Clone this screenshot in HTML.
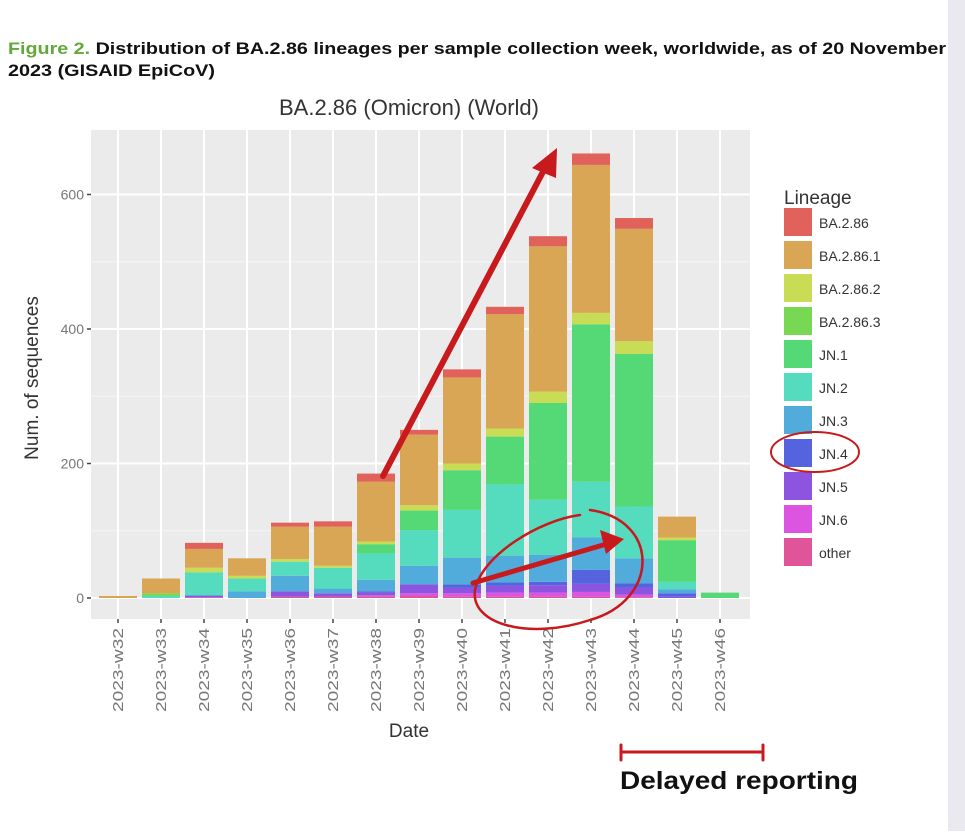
<!DOCTYPE html>
<html><head><meta charset="utf-8"><style>
body{margin:0;background:#fff;width:965px;height:831px;overflow:hidden;font-family:"Liberation Sans",sans-serif}
</style></head><body>
<svg width="965" height="831" xmlns="http://www.w3.org/2000/svg">
<rect x="948" y="0" width="17" height="831" fill="#e9e9ef"/>
<text x="8" y="54" font-size="17" font-weight="bold" fill="#111" font-family="Liberation Sans, sans-serif" textLength="938" lengthAdjust="spacingAndGlyphs"><tspan fill="#62a83a">Figure 2.</tspan> Distribution of BA.2.86 lineages per sample collection week, worldwide, as of 20 November</text>
<text x="8" y="76" font-size="17" font-weight="bold" fill="#111" textLength="207" lengthAdjust="spacingAndGlyphs">2023 (GISAID EpiCoV)</text>
<text x="409" y="115" font-size="22" fill="#333" text-anchor="middle">BA.2.86 (Omicron) (World)</text>
<g id="chart"></g>
<text x="409" y="737" font-size="19" fill="#333" text-anchor="middle">Date</text>
<text transform="translate(38,378) rotate(-90)" font-size="19" fill="#333" text-anchor="middle">Num. of sequences</text>
<g id="legend"></g>
<g fill="none" stroke="#c8191c" stroke-linecap="round">
<line x1="383" y1="476" x2="545" y2="168" stroke-width="6"/>
<polygon points="557,148 532,168 556,178" fill="#c8191c" stroke="none"/>
<line x1="473" y1="583" x2="610" y2="543" stroke-width="5"/>
<polygon points="624,539 600,530 606,554" fill="#c8191c" stroke="none"/>
<path d="M590,510 C660,520 660,600 590,620 C530,640 470,625 475,590 C482,555 540,520 580,515" stroke-width="2.5"/>
<ellipse cx="815" cy="452" rx="44" ry="20" stroke-width="2"/>
<line x1="621" y1="752" x2="763" y2="752" stroke-width="3"/>
<line x1="621" y1="745" x2="621" y2="760" stroke-width="3"/>
<line x1="763" y1="745" x2="763" y2="760" stroke-width="3"/>
</g>
<text x="620" y="789" font-size="25" font-weight="bold" fill="#111" textLength="238" lengthAdjust="spacingAndGlyphs">Delayed reporting</text>
</svg>
<script>
const weeks=["2023-w32","2023-w33","2023-w34","2023-w35","2023-w36","2023-w37","2023-w38","2023-w39","2023-w40","2023-w41","2023-w42","2023-w43","2023-w44","2023-w45","2023-w46"];
const lineages=["other","JN.6","JN.5","JN.4","JN.3","JN.2","JN.1","BA.2.86.3","BA.2.86.2","BA.2.86.1","BA.2.86"];
const colors=["#e0559a","#dc55e0","#8d55df","#5564de","#52acdb","#55dcbe","#55d977","#78d854","#c8dc55","#d9a656","#e0625a"];
const sOther=[0,0,1,0,2,2,2,3,2,2,2,2,1,0,0];
const sJN6=[0,0,0,0,0,0,2,4,5,6,6,7,4,0,0];
const sJN5=[0,0,2,0,8,5,4,13,8,10,11,12,10,2,0];
const sJN4=[0,0,0,0,0,0,2,0,5,5,5,21,7,5,0];
const sJN3=[0,0,2,10,23,7,17,28,40,40,40,48,37,6,0];
const sJN2=[0,3,33,19,21,31,39,53,71,106,82,83,77,11,0];
const sJN1=[0,0,0,0,0,0,14,29,59,71,144,234,227,62,8];
const sBA3=[0,4,0,0,0,0,0,0,0,0,0,0,0,0,0];
const sBA2=[0,0,7,4,4,3,4,8,10,12,17,17,19,4,0];
const sBA1=[3,22,28,26,48,58,89,105,128,170,216,220,167,31,0];
const sBA=[0,0,9,0,6,8,12,7,12,11,15,17,16,0,0];
const yTicks=[0,200,400,600];
const series=[sOther,sJN6,sJN5,sJN4,sJN3,sJN2,sJN1,sBA3,sBA2,sBA1,sBA];
const NS="http://www.w3.org/2000/svg";
const PX0=91,PX1=750,PY0=130,PY1=619;
const y=v=>598-v*0.6725;
const x=i=>118+i*43;
const g=document.getElementById("chart");
function mk(t,a,p){const e=document.createElementNS(NS,t);for(const k in a)e.setAttribute(k,a[k]);(p||g).appendChild(e);return e;}
const panel=mk("rect",{x:PX0,y:PY0,width:PX1-PX0,height:PY1-PY0,fill:"#ebebeb"});


for(let v=100;v<700;v+=200){if(y(v)>PY0)mk("line",{x1:PX0,x2:PX1,y1:y(v),y2:y(v),stroke:"#f6f6f6","stroke-width":1});}
yTicks.forEach(v=>{
 const l=mk("line",{x1:PX0,x2:PX1,y1:y(v),y2:y(v),stroke:"#fff","stroke-width":2});
 
 
 mk("line",{x1:PX0-4,x2:PX0,y1:y(v),y2:y(v),stroke:"#444","stroke-width":1.5});
 const t=mk("text",{x:PX0-7,y:y(v)+5,"font-size":14,fill:"#777","text-anchor":"end"});
 t.textContent=v;
 
 
});
weeks.forEach((w,i)=>{
 mk("line",{x1:x(i),x2:x(i),y1:PY0,y2:PY1,stroke:"#fff","stroke-width":2});
 mk("line",{x1:x(i),x2:x(i),y1:PY1,y2:PY1+4,stroke:"#444","stroke-width":1.5});
 const t=mk("text",{transform:`translate(${x(i)+5},${PY1+9}) rotate(-90)`,"font-size":15,fill:"#777","text-anchor":"end",textLength:84,lengthAdjust:"spacingAndGlyphs"});
 t.textContent=w;
 
 
});
weeks.forEach((w,i)=>{
 let cum=0;
 series.forEach((s,k)=>{
  const v=s[i]; if(!v)return;
  const r=mk("rect",{x:x(i)-19,y:y(cum+v),width:38,height:y(cum)-y(cum+v),fill:colors[k]});
  
  
  cum+=v;
 });
});
const lg=document.getElementById("legend");
const lt=mk("text",{x:784,y:204,"font-size":19,fill:"#333"},lg);
lt.textContent="Lineage";


for(let j=0;j<lineages.length;j++){
 const k=lineages.length-1-j;
 const yy=208+j*33;
 const r=mk("rect",{x:784,y:yy,width:28,height:28,fill:colors[k]},lg);
 
 
 const t=mk("text",{x:819,y:yy+20,"font-size":14,fill:"#333"},lg);
 t.textContent=lineages[k];
 
 
}
</script>
</body></html>
